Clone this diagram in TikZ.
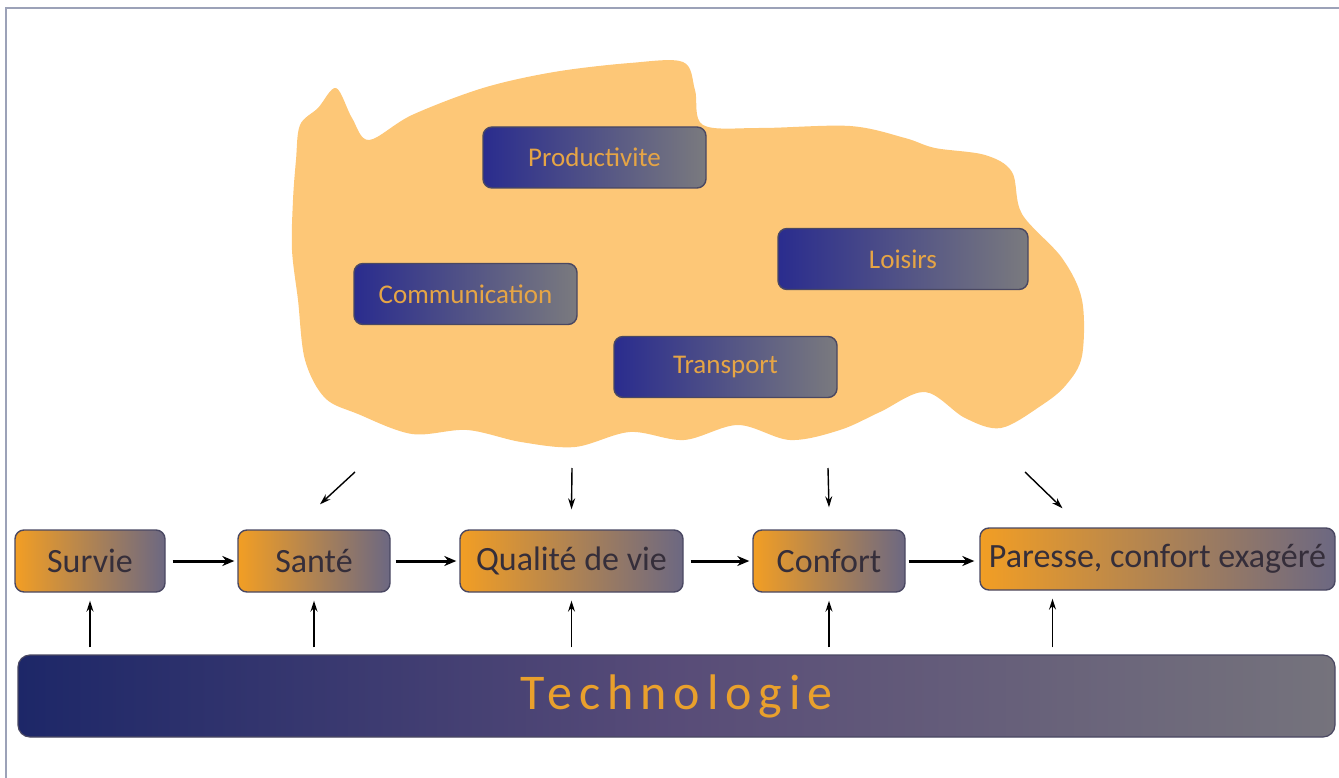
\documentclass[tikz,border=0pt]{standalone}
\usepackage{fontspec}
\setmainfont{Carlito}
\newfontfamily\techfont[LetterSpace=14]{Carlito}
\usetikzlibrary{arrows.meta}
\definecolor{cloudorange}{HTML}{FDC777}
\definecolor{stageorange}{HTML}{F29E24}
\definecolor{stagegrey}{HTML}{6C6882}
\definecolor{stageline}{HTML}{4A4862}
\definecolor{stagetext}{HTML}{352E3A}
\definecolor{domblue}{HTML}{2A2C8E}
\definecolor{domgrey}{HTML}{7A7A7E}
\definecolor{domtext}{HTML}{E6A545}
\definecolor{technavy}{HTML}{1D2768}
\definecolor{techmid}{HTML}{584C78}
\definecolor{techgrey}{HTML}{75737C}
\definecolor{techtext}{HTML}{E9A02C}
\definecolor{framegrey}{HTML}{9CA2B8}
\tikzset{
stage/.style={
  draw=stageline,line width=1.4pt,rounded corners=9pt,
  left color=stageorange,right color=stagegrey,
  minimum height=62pt,inner sep=0pt,text=stagetext,
  font=\fontsize{34}{40}\selectfont},
aimbox/.style={
  draw=stageline,line width=1.4pt,rounded corners=9pt,
  left color=domblue,right color=domgrey,
  minimum width=223pt,minimum height=61pt,inner sep=0pt,text=domtext,
  font=\fontsize{27}{32}\selectfont},
flow/.style={-{Stealth[length=12pt,width=10pt]},line width=3pt},
push/.style={-{Stealth[length=11pt,width=7pt]},line width=1.4pt}}

\begin{document}
\begin{tikzpicture}[x=1pt,y=-1pt]
\useasboundingbox (0,0) rectangle (1339,778);
\draw[framegrey,line width=1.2pt] (6,778) -- (6,8) -- (1339,8);

% the cloud
\fill[cloudorange] plot[smooth cycle,tension=0.55] coordinates {
 (336,88) (352,118) (369,140) (412,115) (483,88) (554,72) (630,63)
 (683,62) (695,90) (703,125) (760,128) (850,126) (905,138) (935,148)
 (985,155) (1012,172) (1022,214) (1062,258) (1082,300) (1082,356)
 (1066,385) (1042,405) (1001,428) (965,418) (925,392) (880,412)
 (840,430) (790,440) (738,425) (684,440) (630,432) (575,447) (521,442)
 (467,430) (412,434) (358,414) (325,398) (305,360) (298,300) (292,250)
 (293,200) (296,160) (300,125) (318,108)};

\node[aimbox] (prod) at (594.5,157.5) {Productivite};
\node[aimbox,minimum width=250pt] (loisirs) at (903,259) {Loisirs};
\node[aimbox] (comm) at (465.5,294) {Communication};
\node[aimbox] (transp) at (725.5,367) {Transport};

% stages
\node[stage,minimum width=150pt] (survie) at (90,561) {Survie};
\node[stage,minimum width=152pt] (sante) at (314,561) {Santé};
\node[stage,minimum width=223pt] (qualite) at (571.5,561) {Qualité de vie};
\node[stage,minimum width=152pt] (confort) at (829,561) {Confort};
\node[stage,minimum width=355pt] (paresse) at (1157.5,559) {Paresse, confort exagéré};

\node[draw=stageline,line width=1.2pt,rounded corners=12pt,
  left color=technavy,right color=techgrey,middle color=techmid,
  minimum width=1317pt,minimum height=82pt,inner sep=0pt,
  text=techtext,font=\techfont\fontsize{50}{56}\selectfont]
  (tech) at (676.5,696) {Technologie};

\draw[flow,shorten <=7pt,shorten >=3pt] (survie) -- (sante);
\draw[flow,shorten <=5pt,shorten >=3pt] (sante) -- (qualite);
\draw[flow,shorten <=7pt,shorten >=3pt] (qualite) -- (confort);
\draw[flow,shorten <=3pt,shorten >=5pt] (confort.east) -- (confort.east -| paresse.west);

% from the cloud
\coordinate (d1) at (355,472);
\coordinate (d2) at (572,468);
\coordinate (d3) at (828,468);
\coordinate (d4) at (1025,472);
\draw[push] (d1) -- ([xshift=6pt,yshift=25pt]sante.north);
\draw[push] (d2) -- ([yshift=20pt]qualite.north);
\draw[push] (d3) -- ([yshift=22pt]confort.north);
\draw[push] (d4) -- ([xshift=-95pt,yshift=19pt]paresse.north);

% from technology
\coordinate (pfoot) at ([xshift=-105pt]paresse.south);
\foreach \s in {survie,sante,qualite,confort,pfoot}
  \draw[push] ([yshift=7pt]tech.north -| \s) -- ([yshift=-8pt]tech.north |- \s.south -| \s);
\end{tikzpicture}
\end{document}
